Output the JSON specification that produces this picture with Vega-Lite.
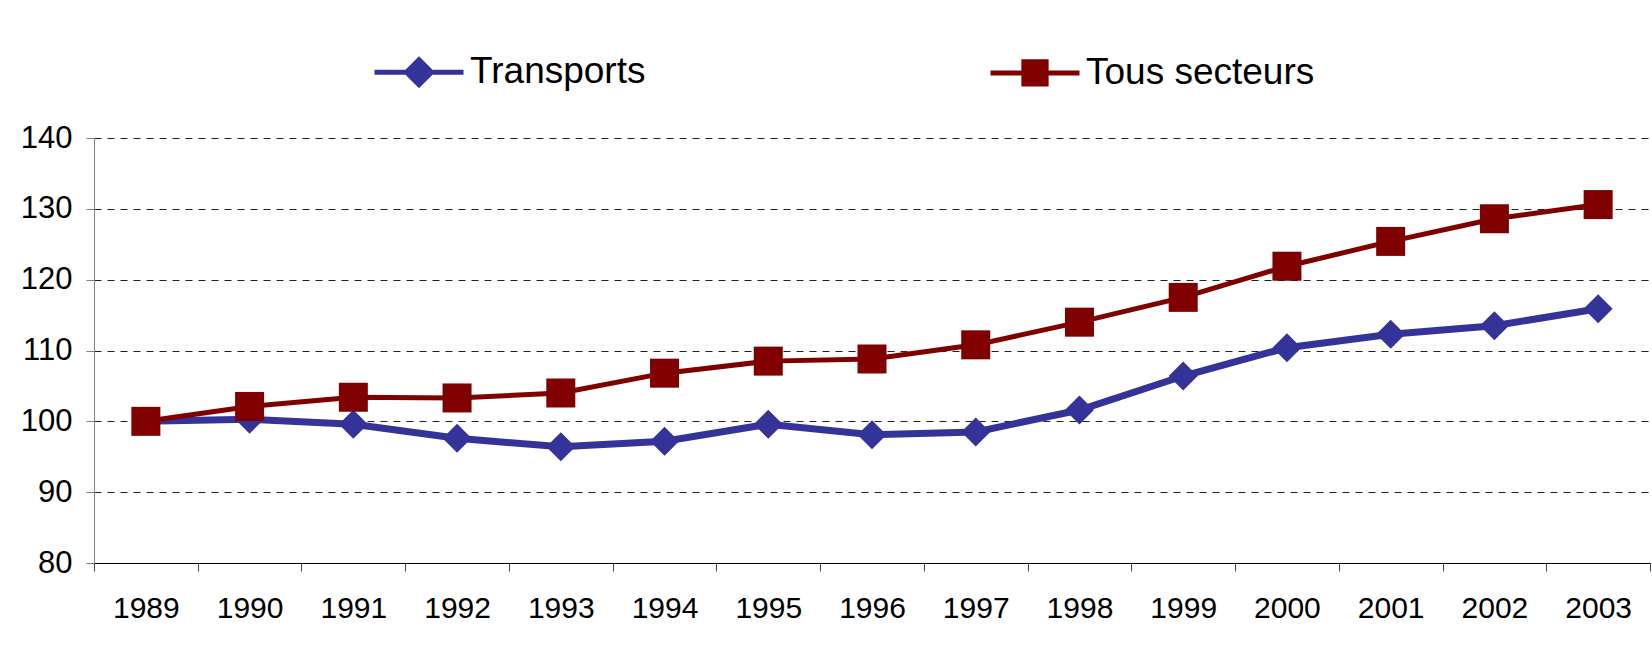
{
  "$schema": "https://vega.github.io/schema/vega-lite/v6.json",
  "width": 1556,
  "height": 425,
  "autosize": "none",
  "padding": {"left": 94, "top": 138, "right": 2, "bottom": 83},
  "background": "white",
  "config": {"view": {"stroke": null}, "font": "Liberation Sans"},
  "data": {
    "values": [
      {"annee": "1989", "serie": "Transports", "valeur": 100.0},
      {"annee": "1990", "serie": "Transports", "valeur": 100.3},
      {"annee": "1991", "serie": "Transports", "valeur": 99.6},
      {"annee": "1992", "serie": "Transports", "valeur": 97.6},
      {"annee": "1993", "serie": "Transports", "valeur": 96.4},
      {"annee": "1994", "serie": "Transports", "valeur": 97.2},
      {"annee": "1995", "serie": "Transports", "valeur": 99.6},
      {"annee": "1996", "serie": "Transports", "valeur": 98.1},
      {"annee": "1997", "serie": "Transports", "valeur": 98.5},
      {"annee": "1998", "serie": "Transports", "valeur": 101.6},
      {"annee": "1999", "serie": "Transports", "valeur": 106.4},
      {"annee": "2000", "serie": "Transports", "valeur": 110.4},
      {"annee": "2001", "serie": "Transports", "valeur": 112.3},
      {"annee": "2002", "serie": "Transports", "valeur": 113.5},
      {"annee": "2003", "serie": "Transports", "valeur": 115.9},
      {"annee": "1989", "serie": "Tous secteurs", "valeur": 100.0},
      {"annee": "1990", "serie": "Tous secteurs", "valeur": 102.1},
      {"annee": "1991", "serie": "Tous secteurs", "valeur": 103.4},
      {"annee": "1992", "serie": "Tous secteurs", "valeur": 103.3},
      {"annee": "1993", "serie": "Tous secteurs", "valeur": 104.0},
      {"annee": "1994", "serie": "Tous secteurs", "valeur": 106.8},
      {"annee": "1995", "serie": "Tous secteurs", "valeur": 108.5},
      {"annee": "1996", "serie": "Tous secteurs", "valeur": 108.8},
      {"annee": "1997", "serie": "Tous secteurs", "valeur": 110.8},
      {"annee": "1998", "serie": "Tous secteurs", "valeur": 114.0},
      {"annee": "1999", "serie": "Tous secteurs", "valeur": 117.5},
      {"annee": "2000", "serie": "Tous secteurs", "valeur": 121.9},
      {"annee": "2001", "serie": "Tous secteurs", "valeur": 125.4},
      {"annee": "2002", "serie": "Tous secteurs", "valeur": 128.6},
      {"annee": "2003", "serie": "Tous secteurs", "valeur": 130.6}
    ]
  },
  "encoding": {
    "x": {
      "field": "annee",
      "type": "ordinal",
      "scale": {"type": "band", "paddingInner": 0, "paddingOuter": 0},
      "axis": {
        "title": null,
        "labelAngle": 0,
        "labelFontSize": 30,
        "labelColor": "black",
        "labelFont": "Liberation Sans",
        "tickBand": "extent",
        "tickSize": 8,
        "tickColor": "#444444",
        "domainColor": "black",
        "labelPadding": 22,
        "grid": false
      }
    },
    "y": {
      "field": "valeur",
      "type": "quantitative",
      "scale": {"domain": [80, 140], "nice": false, "zero": false},
      "axis": {
        "title": null,
        "values": [80, 90, 100, 110, 120, 130, 140],
        "labelFontSize": 31,
        "labelColor": "black",
        "labelFont": "Liberation Sans",
        "tickSize": 8,
        "tickColor": "#808080",
        "domainColor": "#808080",
        "grid": true,
        "gridDash": [7, 6],
        "gridColor": "#222222",
        "gridWidth": 1,
        "labelPadding": 14
      }
    }
  },
  "resolve": {"legend": {"color": "independent"}},
  "layer": [
    {
      "mark": {"type": "line"},
      "encoding": {
        "color": {
          "field": "serie",
          "type": "nominal",
          "scale": {"domain": ["Transports", "Tous secteurs"], "range": ["#333399", "#800000"]},
          "legend": {
            "title": null,
            "orient": "none",
            "legendX": 278,
            "legendY": -113,
            "direction": "horizontal",
            "columns": 2,
            "padding": 0,
            "labelFontSize": 37,
            "labelFont": "Liberation Sans",
            "labelColor": "black",
            "labelOffset": 4,
            "labelLimit": 500,
            "columnPadding": 334,
            "symbolSize": 7921,
            "symbolStrokeWidth": 5,
            "symbolOpacity": 1,
            "encoding": {
              "symbols": {
                "shape": {"value": {"expr": "datum.value === 'Transports' ? 'M-1,0L1,0M0,-0.28L0.28,0L0,0.28L-0.28,0Z' : 'M-1,0L1,0M-0.25,-0.25L0.25,-0.25L0.25,0.25L-0.25,0.25Z'"}},
                "fill": {"value": {"expr": "datum.value === 'Transports' ? '#333399' : '#800000'"}},
                "stroke": {"value": {"expr": "datum.value === 'Transports' ? '#333399' : '#800000'"}},
                "strokeWidth": {"value": 5},
                "opacity": {"value": 1},
                "fillOpacity": {"value": 1}
              }
            }
          }
        },
        "strokeWidth": {
          "field": "serie",
          "type": "nominal",
          "scale": {"domain": ["Transports", "Tous secteurs"], "range": [7, 5]},
          "legend": null
        }
      }
    },
    {
      "mark": {"type": "point", "filled": true, "opacity": 1, "size": 841},
      "encoding": {
        "color": {"field": "serie", "type": "nominal", "legend": null},
        "shape": {
          "field": "serie",
          "type": "nominal",
          "scale": {"domain": ["Transports", "Tous secteurs"], "range": ["diamond", "square"]},
          "legend": null
        }
      }
    }
  ]
}
